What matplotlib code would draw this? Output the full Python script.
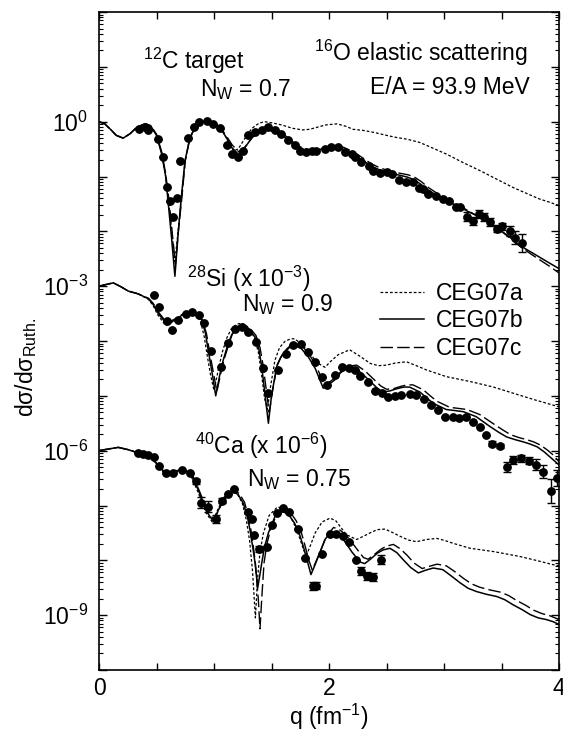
import numpy as np
import matplotlib
matplotlib.use("Agg")
import matplotlib.pyplot as plt
from matplotlib.ticker import FixedLocator, LogLocator, NullFormatter, FuncFormatter

plt.rcParams["font.family"] = ["Liberation Sans", "DejaVu Sans"]
plt.rcParams["mathtext.fontset"] = "custom"
plt.rcParams["mathtext.rm"] = "Liberation Sans"
plt.rcParams["mathtext.it"] = "Liberation Sans:italic"
plt.rcParams["mathtext.bf"] = "Liberation Sans:bold"

# curves: (q [fm^-1], log10 dsigma/dsigma_Ruth incl. the plot offset)
C12_A = [(0.00, 0.00), (0.05, -0.04), (0.10, -0.14), (0.15, -0.25), (0.21, -0.30), (0.27, -0.22),
         (0.33, -0.10), (0.40, -0.04), (0.45, -0.08), (0.50, -0.24), (0.545, -0.57), (0.58, -1.00),
         (0.605, -1.44), (0.635, -2.05), (0.66, -2.55), (0.69, -1.95), (0.715, -1.42), (0.75, -0.70),
         (0.78, -0.40), (0.81, -0.21), (0.85, -0.08), (0.90, -0.01), (0.95, 0.00), (1.00, -0.03),
         (1.07, -0.14), (1.12, -0.35), (1.17, -0.53), (1.21, -0.50), (1.27, -0.30), (1.33, -0.12),
         (1.39, -0.03), (1.44, 0.00), (1.50, -0.02), (1.59, -0.06), (1.68, -0.12), (1.77, -0.15),
         (1.83, -0.14), (1.90, -0.10), (1.97, -0.06), (2.07, -0.04), (2.14, -0.08), (2.21, -0.14),
         (2.30, -0.16), (2.40, -0.20), (2.50, -0.25), (2.59, -0.29), (2.68, -0.32), (2.79, -0.38),
         (2.90, -0.48), (3.02, -0.59), (3.16, -0.74), (3.31, -0.89), (3.45, -1.04), (3.60, -1.20),
         (3.72, -1.31), (3.83, -1.41), (3.92, -1.47), (4.00, -1.53)]
C12_B = [(0.00, 0.00), (0.05, -0.04), (0.10, -0.14), (0.15, -0.25), (0.21, -0.30), (0.27, -0.22),
         (0.33, -0.10), (0.40, -0.04), (0.45, -0.08), (0.50, -0.25), (0.545, -0.59), (0.58, -1.00),
         (0.60, -1.44), (0.63, -2.10), (0.66, -2.82), (0.69, -2.00), (0.713, -1.44), (0.748, -0.71),
         (0.78, -0.40), (0.806, -0.22), (0.85, -0.08), (0.90, -0.01), (0.95, 0.00), (1.00, -0.04),
         (1.067, -0.16), (1.11, -0.30), (1.153, -0.47), (1.21, -0.59), (1.26, -0.50), (1.33, -0.29),
         (1.40, -0.18), (1.47, -0.15), (1.55, -0.20), (1.62, -0.29), (1.70, -0.43), (1.76, -0.50),
         (1.82, -0.53), (1.88, -0.53), (1.95, -0.49), (2.04, -0.455), (2.12, -0.50), (2.21, -0.59),
         (2.29, -0.70), (2.36, -0.80), (2.43, -0.87), (2.50, -0.92), (2.58, -0.96), (2.68, -1.01),
         (2.74, -1.06), (2.79, -1.13), (2.86, -1.24), (2.94, -1.35), (3.04, -1.46), (3.14, -1.56),
         (3.22, -1.65), (3.31, -1.74), (3.40, -1.85), (3.49, -1.98), (3.58, -2.12), (3.66, -2.26),
         (3.75, -2.37), (3.83, -2.47), (3.91, -2.57), (4.00, -2.68)]
C12_C = [(0.00, 0.00), (0.05, -0.04), (0.10, -0.14), (0.15, -0.25), (0.21, -0.30), (0.27, -0.22),
         (0.33, -0.10), (0.40, -0.04), (0.45, -0.07), (0.50, -0.23), (0.545, -0.55), (0.58, -0.95),
         (0.61, -1.45), (0.64, -2.10), (0.665, -2.60), (0.69, -2.00), (0.72, -1.40), (0.75, -0.72),
         (0.78, -0.40), (0.81, -0.21), (0.85, -0.08), (0.90, -0.01), (0.95, 0.00), (1.00, -0.03),
         (1.07, -0.15), (1.11, -0.27), (1.16, -0.43), (1.215, -0.55), (1.27, -0.46), (1.34, -0.27),
         (1.41, -0.16), (1.48, -0.13), (1.56, -0.18), (1.63, -0.27), (1.71, -0.41), (1.77, -0.48),
         (1.83, -0.51), (1.89, -0.51), (1.96, -0.47), (2.05, -0.43), (2.13, -0.47), (2.22, -0.56),
         (2.30, -0.67), (2.37, -0.77), (2.44, -0.84), (2.51, -0.89), (2.59, -0.93), (2.69, -0.97),
         (2.75, -1.02), (2.80, -1.09), (2.87, -1.21), (2.95, -1.32), (3.05, -1.44), (3.15, -1.55),
         (3.23, -1.65), (3.32, -1.75), (3.41, -1.87), (3.50, -2.00), (3.59, -2.15), (3.67, -2.29),
         (3.76, -2.42), (3.84, -2.53), (3.92, -2.64), (4.00, -2.76)]

SI28_A = [(0.00, -3.00), (0.06, -2.97), (0.125, -2.94), (0.19, -3.01), (0.255, -3.09), (0.34, -3.14),
          (0.43, -3.24), (0.47, -3.35), (0.51, -3.52), (0.58, -3.72), (0.65, -3.64), (0.74, -3.50),
          (0.80, -3.47), (0.855, -3.54), (0.885, -3.66), (0.915, -3.92), (0.94, -4.25), (0.97, -4.62),
          (1.00, -4.90), (1.035, -4.55), (1.07, -4.22), (1.11, -3.95), (1.15, -3.78), (1.20, -3.69),
          (1.24, -3.68), (1.30, -3.76), (1.35, -3.93), (1.385, -4.20), (1.41, -4.55), (1.44, -5.05),
          (1.465, -5.25), (1.49, -4.85), (1.53, -4.35), (1.57, -4.12), (1.62, -4.00), (1.67, -3.96),
          (1.70, -3.96), (1.76, -4.05), (1.83, -4.22), (1.90, -4.40), (1.965, -4.48), (2.01, -4.38),
          (2.08, -4.25), (2.18, -4.16), (2.27, -4.28), (2.36, -4.41), (2.43, -4.45), (2.50, -4.44),
          (2.58, -4.40), (2.675, -4.38), (2.76, -4.45), (2.85, -4.53), (3.02, -4.65), (3.23, -4.74),
          (3.43, -4.84), (3.66, -4.99), (3.80, -5.08), (3.95, -5.17), (4.00, -5.20)]
SI28_B = [(0.00, -3.00), (0.06, -2.97), (0.125, -2.94), (0.19, -3.01), (0.255, -3.09), (0.34, -3.14),
          (0.43, -3.23), (0.47, -3.33), (0.516, -3.50), (0.589, -3.69), (0.66, -3.62), (0.748, -3.49),
          (0.806, -3.47), (0.86, -3.53), (0.893, -3.62), (0.925, -3.85), (0.95, -4.17), (0.985, -4.60),
          (1.015, -5.00), (1.05, -4.62), (1.08, -4.35), (1.12, -4.07), (1.153, -3.89), (1.20, -3.75),
          (1.24, -3.71), (1.30, -3.78), (1.357, -3.93), (1.39, -4.15), (1.415, -4.47), (1.445, -5.00),
          (1.473, -5.50), (1.50, -5.00), (1.545, -4.47), (1.58, -4.30), (1.617, -4.20), (1.66, -4.11),
          (1.70, -4.08), (1.76, -4.14), (1.82, -4.29), (1.88, -4.50), (1.95, -4.86), (2.00, -4.79),
          (2.05, -4.71), (2.10, -4.58), (2.15, -4.50), (2.21, -4.48), (2.28, -4.58), (2.36, -4.74),
          (2.42, -4.86), (2.47, -4.93), (2.53, -4.91), (2.59, -4.87), (2.65, -4.84), (2.70, -4.84),
          (2.79, -4.93), (2.85, -5.04), (2.91, -5.14), (3.02, -5.25), (3.10, -5.27), (3.17, -5.29),
          (3.28, -5.38), (3.40, -5.56), (3.48, -5.67), (3.545, -5.75), (3.62, -5.80), (3.69, -5.84),
          (3.75, -5.88), (3.81, -5.93), (3.87, -6.02), (3.93, -6.13), (4.00, -6.26)]
SI28_C = [(0.00, -3.00), (0.06, -2.97), (0.125, -2.94), (0.19, -3.01), (0.255, -3.09), (0.34, -3.14),
          (0.43, -3.22), (0.47, -3.31), (0.52, -3.48), (0.59, -3.67), (0.66, -3.60), (0.75, -3.48),
          (0.81, -3.46), (0.865, -3.52), (0.90, -3.62), (0.935, -3.87), (0.96, -4.18), (0.995, -4.58),
          (1.025, -4.92), (1.06, -4.58), (1.09, -4.32), (1.13, -4.05), (1.16, -3.87), (1.21, -3.73),
          (1.25, -3.69), (1.31, -3.76), (1.365, -3.90), (1.40, -4.12), (1.425, -4.42), (1.455, -4.90),
          (1.48, -5.30), (1.51, -4.90), (1.55, -4.43), (1.59, -4.26), (1.63, -4.15), (1.67, -4.07),
          (1.71, -4.04), (1.77, -4.10), (1.83, -4.25), (1.89, -4.46), (1.96, -4.80), (2.01, -4.74),
          (2.06, -4.66), (2.11, -4.54), (2.17, -4.46), (2.24, -4.44), (2.31, -4.54), (2.39, -4.70),
          (2.45, -4.82), (2.50, -4.88), (2.56, -4.87), (2.62, -4.83), (2.68, -4.80), (2.73, -4.80),
          (2.82, -4.89), (2.88, -5.00), (2.94, -5.10), (3.05, -5.21), (3.13, -5.23), (3.20, -5.25),
          (3.31, -5.34), (3.43, -5.51), (3.51, -5.62), (3.58, -5.71), (3.65, -5.76), (3.72, -5.80),
          (3.78, -5.84), (3.84, -5.90), (3.90, -5.99), (3.95, -6.08), (4.00, -6.20)]

CA40_A = [(0.00, -6.00), (0.08, -5.97), (0.168, -5.94), (0.25, -5.98), (0.34, -6.04), (0.40, -6.08),
          (0.458, -6.14), (0.52, -6.29), (0.57, -6.42), (0.62, -6.41), (0.66, -6.39), (0.73, -6.36),
          (0.77, -6.39), (0.80, -6.46), (0.86, -6.75), (0.93, -7.13), (0.985, -7.30), (1.045, -7.02),
          (1.10, -6.80), (1.16, -6.73), (1.20, -6.78), (1.245, -6.95), (1.28, -7.25), (1.31, -7.65),
          (1.335, -8.20), (1.36, -9.05), (1.38, -8.30), (1.40, -7.85), (1.43, -7.50), (1.48, -7.18),
          (1.55, -7.03), (1.61, -7.05), (1.66, -7.18), (1.71, -7.40), (1.75, -7.62), (1.78, -7.82),
          (1.806, -7.90), (1.84, -7.72), (1.88, -7.50), (1.94, -7.30), (2.01, -7.23), (2.06, -7.28),
          (2.15, -7.53), (2.24, -7.62), (2.30, -7.56), (2.357, -7.50), (2.42, -7.44), (2.487, -7.43),
          (2.55, -7.49), (2.617, -7.56), (2.69, -7.63), (2.76, -7.66), (2.85, -7.62), (2.937, -7.60),
          (3.01, -7.64), (3.08, -7.69), (3.226, -7.78), (3.43, -7.84), (3.66, -7.93), (3.80, -8.00),
          (3.95, -8.08), (4.00, -8.10)]
CA40_B = [(0.00, -6.00), (0.08, -5.97), (0.168, -5.94), (0.25, -5.98), (0.34, -6.04), (0.40, -6.08),
          (0.458, -6.14), (0.52, -6.28), (0.574, -6.41), (0.62, -6.40), (0.66, -6.38), (0.733, -6.35),
          (0.77, -6.38), (0.806, -6.44), (0.864, -6.72), (0.936, -7.11), (0.994, -7.29), (1.052, -7.02),
          (1.11, -6.81), (1.168, -6.75), (1.21, -6.80), (1.255, -6.96), (1.29, -7.20), (1.313, -7.45),
          (1.34, -7.80), (1.357, -8.05), (1.38, -8.50), (1.40, -8.25), (1.415, -8.05), (1.44, -7.75),
          (1.473, -7.50), (1.53, -7.20), (1.60, -7.11), (1.65, -7.17), (1.70, -7.32), (1.74, -7.50),
          (1.777, -7.75), (1.81, -8.00), (1.843, -8.26), (1.875, -8.10), (1.907, -7.93), (1.965, -7.62),
          (2.02, -7.47), (2.07, -7.52), (2.125, -7.62), (2.20, -7.85), (2.27, -8.03), (2.31, -8.06),
          (2.36, -7.98), (2.42, -7.87), (2.47, -7.81), (2.53, -7.78), (2.59, -7.86), (2.646, -7.99),
          (2.71, -8.13), (2.777, -8.23), (2.84, -8.18), (2.907, -8.14), (2.99, -8.17), (3.06, -8.28),
          (3.14, -8.41), (3.21, -8.51), (3.284, -8.57), (3.37, -8.62), (3.46, -8.66), (3.53, -8.72),
          (3.60, -8.81), (3.68, -8.90), (3.75, -8.99), (3.82, -9.05), (3.89, -9.08), (3.95, -9.12),
          (4.00, -9.17)]
CA40_C = [(0.00, -6.00), (0.08, -5.97), (0.168, -5.94), (0.25, -5.98), (0.34, -6.04), (0.40, -6.08),
          (0.458, -6.14), (0.52, -6.27), (0.574, -6.40), (0.62, -6.39), (0.66, -6.37), (0.733, -6.34),
          (0.77, -6.37), (0.81, -6.43), (0.87, -6.72), (0.94, -7.09), (1.00, -7.26), (1.06, -7.00),
          (1.12, -6.79), (1.175, -6.73), (1.22, -6.78), (1.265, -6.94), (1.30, -7.20), (1.33, -7.55),
          (1.36, -8.05), (1.385, -8.70), (1.40, -9.25), (1.415, -8.70), (1.435, -8.05), (1.46, -7.70),
          (1.49, -7.45), (1.545, -7.16), (1.615, -7.07), (1.665, -7.13), (1.715, -7.28), (1.755, -7.46),
          (1.79, -7.72), (1.825, -8.00), (1.855, -8.18), (1.885, -8.03), (1.92, -7.86), (1.98, -7.55),
          (2.04, -7.40), (2.09, -7.44), (2.15, -7.54), (2.23, -7.76), (2.30, -7.95), (2.34, -7.98),
          (2.39, -7.90), (2.45, -7.80), (2.50, -7.74), (2.56, -7.71), (2.62, -7.79), (2.68, -7.91),
          (2.74, -8.05), (2.81, -8.15), (2.87, -8.11), (2.94, -8.07), (3.02, -8.10), (3.09, -8.20),
          (3.17, -8.33), (3.24, -8.43), (3.31, -8.49), (3.40, -8.54), (3.49, -8.58), (3.56, -8.64),
          (3.63, -8.73), (3.71, -8.82), (3.78, -8.91), (3.85, -8.97), (3.92, -9.01), (4.00, -9.08)]

# measured points: (q, log10 value, error in decades)
C12_DATA = [(0.35, -0.13, 0), (0.40, -0.09, 0), (0.43, -0.15, 0), (0.51, -0.31, 0), (0.56, -0.65, 0),
            (0.59, -1.20, 0), (0.617, -1.44, 0), (0.641, -1.74, 0), (0.681, -1.39, 0), (0.704, -0.72, 0),
            (0.777, -0.29, 0), (0.829, -0.09, 0), (0.872, -0.01, 0), (0.942, 0.02, 0), (0.989, -0.04, 0),
            (1.052, -0.12, 0), (1.11, -0.42, 0), (1.154, -0.59, 0), (1.21, -0.65, 0), (1.255, -0.53, 0),
            (1.298, -0.25, 0), (1.357, -0.18, 0), (1.415, -0.15, 0), (1.472, -0.10, 0), (1.53, -0.15, 0),
            (1.58, -0.22, 0), (1.64, -0.33, 0), (1.70, -0.42, 0), (1.75, -0.54, 0), (1.80, -0.56, 0),
            (1.85, -0.54, 0), (1.89, -0.54, 0), (1.965, -0.50, 0), (2.02, -0.455, 0), (2.08, -0.47, 0),
            (2.14, -0.55, 0), (2.20, -0.59, 0), (2.23, -0.64, 0), (2.28, -0.74, 0), (2.35, -0.80, 0),
            (2.385, -0.90, 0), (2.44, -0.94, 0), (2.50, -0.91, 0), (2.545, -0.95, 0), (2.61, -1.07, 0),
            (2.67, -1.10, 0), (2.73, -1.10, 0), (2.78, -1.21, 0), (2.82, -1.23, 0), (2.86, -1.32, 0),
            (2.93, -1.35, 0), (2.99, -1.41, 0), (3.04, -1.44, 0), (3.10, -1.55, 0), (3.14, -1.55, 0),
            (3.20, -1.73, 0.08), (3.25, -1.81, 0.08), (3.30, -1.69, 0.07), (3.35, -1.74, 0.07),
            (3.40, -1.83, 0.08), (3.46, -1.95, 0.07), (3.50, -1.91, 0.07), (3.57, -2.00, 0.09),
            (3.62, -2.12, 0.12), (3.68, -2.21, 0.17)]
SI28_DATA = [(0.48, -3.17, 0), (0.52, -3.38, 0), (0.589, -3.63, 0), (0.638, -3.80, 0), (0.69, -3.61, 0),
             (0.754, -3.50, 0), (0.81, -3.47, 0), (0.872, -3.53, 0), (0.916, -3.67, 0), (0.974, -4.18, 0),
             (1.061, -4.47, 0), (1.119, -4.03, 0), (1.183, -3.79, 0), (1.246, -3.74, 0), (1.298, -3.83, 0),
             (1.362, -4.02, 0), (1.429, -4.50, 0), (1.473, -4.94, 0), (1.56, -4.53, 0), (1.623, -4.23, 0),
             (1.69, -4.08, 0), (1.757, -4.05, 0), (1.82, -4.20, 0), (1.878, -4.38, 0), (1.936, -4.66, 0),
             (1.985, -4.80, 0), (2.05, -4.62, 0), (2.11, -4.48, 0), (2.17, -4.50, 0), (2.226, -4.53, 0),
             (2.27, -4.64, 0), (2.337, -4.74, 0), (2.40, -4.91, 0), (2.458, -4.94, 0), (2.516, -5.03, 0),
             (2.574, -5.00, 0), (2.63, -4.99, 0), (2.70, -4.97, 0), (2.76, -4.99, 0), (2.826, -5.05, 0),
             (2.884, -5.16, 0), (2.95, -5.25, 0), (3.01, -5.38, 0), (3.076, -5.38, 0), (3.13, -5.41, 0),
             (3.19, -5.38, 0), (3.25, -5.47, 0), (3.31, -5.56, 0), (3.365, -5.71, 0), (3.42, -5.87, 0.04),
             (3.49, -5.92, 0.04), (3.55, -6.30, 0.09), (3.60, -6.17, 0.07), (3.667, -6.14, 0.06),
             (3.74, -6.18, 0.07), (3.80, -6.26, 0.10), (3.86, -6.38, 0.12), (3.93, -6.73, 0.22),
             (3.985, -6.50, 0.15)]
CA40_DATA = [(0.342, -6.05, 0), (0.385, -6.06, 0), (0.423, -6.08, 0), (0.481, -6.12, 0), (0.522, -6.28, 0),
             (0.58, -6.41, 0), (0.646, -6.40, 0), (0.725, -6.36, 0), (0.791, -6.41, 0), (0.841, -6.56, 0.05),
             (0.887, -6.95, 0.10), (0.95, -7.02, 0.10), (1.015, -7.25, 0.07), (1.067, -6.91, 0.04),
             (1.119, -6.79, 0), (1.177, -6.70, 0), (1.293, -7.11, 0), (1.328, -7.25, 0), (1.35, -7.53, 0),
             (1.39, -7.79, 0.06), (1.458, -7.75, 0), (1.50, -7.35, 0), (1.545, -7.14, 0), (1.60, -7.05, 0),
             (1.655, -7.11, 0), (1.733, -7.43, 0), (1.79, -7.96, 0), (1.863, -8.47, 0.07), (1.89, -8.46, 0.06),
             (1.94, -7.88, 0), (2.01, -7.52, 0), (2.06, -7.52, 0), (2.12, -7.56, 0), (2.17, -7.66, 0),
             (2.235, -8.00, 0), (2.275, -8.20, 0.07), (2.33, -8.28, 0.07), (2.38, -8.30, 0.07),
             (2.45, -7.99, 0.08)]

MODEL_LABELS = ["CEG07a", "CEG07b", "CEG07c"]
STYLE_A = dict(ls=(0, (2.2, 1.6)), lw=0.9)
STYLE_B = dict(ls="-", lw=1.1)
STYLE_C = dict(ls=(0, (9, 3)), lw=1.0)
FS = 16.5


def draw_curve(ax, pts, label=None, **kw):
    a = np.array(pts)
    return ax.plot(a[:, 0], 10 ** a[:, 1], color="k", label=label, **kw)[0]


def draw_data(ax, pts):
    a = np.array(pts)
    y = 10 ** a[:, 1]
    lo = y - 10 ** (a[:, 1] - a[:, 2])
    hi = 10 ** (a[:, 1] + a[:, 2]) - y
    ax.errorbar(a[:, 0], y, yerr=[lo, hi], fmt="o", ms=5.3, color="k",
                capsize=2.6, elinewidth=1.0, capthick=1.0, zorder=5)


fig = plt.figure(figsize=(5.63, 7.34), dpi=100)
ax = fig.add_axes([99 / 563, 64 / 734, 460 / 563, 658 / 734])

handles = []
for A, B, C, D in [(C12_A, C12_B, C12_C, C12_DATA),
                   (SI28_A, SI28_B, SI28_C, SI28_DATA),
                   (CA40_A, CA40_B, CA40_C, CA40_DATA)]:
    ha = draw_curve(ax, A, MODEL_LABELS[0], **STYLE_A)
    hb = draw_curve(ax, B, MODEL_LABELS[1], **STYLE_B)
    hc = draw_curve(ax, C, MODEL_LABELS[2], **STYLE_C)
    draw_data(ax, D)
    if not handles:
        handles = [ha, hb, hc]

ax.set_yscale("log")
ax.set_xlim(0, 4)
ax.set_ylim(1e-10, 1e2)

ax.xaxis.set_major_locator(FixedLocator([0, 2, 4]))
ax.xaxis.set_minor_locator(FixedLocator(np.arange(0, 4.01, 0.5)))
ax.yaxis.set_major_locator(LogLocator(base=10, numticks=30))
ax.yaxis.set_minor_locator(LogLocator(base=10, subs=np.arange(2, 10), numticks=200))
ax.yaxis.set_minor_formatter(NullFormatter())


def ylab(v, pos):
    e = int(round(np.log10(v)))
    return f"$10^{{{e}}}$" if e in (0, -3, -6, -9) else ""


ax.yaxis.set_major_formatter(FuncFormatter(ylab))
ax.tick_params(which="both", direction="in", top=True, right=True, labelsize=FS, color="k")
ax.tick_params(axis="y", which="major", length=6, width=1.0, pad=8)
ax.tick_params(axis="y", which="minor", length=3, width=0.8)
ax.tick_params(axis="x", which="both", length=5, width=1.0, pad=5)
for s in ax.spines.values():
    s.set_linewidth(1.2)

ax.set_xlabel("q (fm$^{-1}$)", fontsize=FS, labelpad=1)
ax.set_ylabel("dσ/dσ$_{\\mathrm{Ruth.}}$", fontsize=FS)
ax.yaxis.set_label_coords(-0.13, 0.46)

tk = dict(transform=ax.transAxes, fontsize=FS, va="center")
ax.text(0.096, 0.9255, "$^{12}$C target", ha="left", **tk)
ax.text(0.220, 0.8815, "N$_{\\mathrm{W}}$ = 0.7", ha="left", **tk)
ax.text(0.933, 0.9377, "$^{16}$O elastic scattering", ha="right", **tk)
ax.text(0.937, 0.8845, "E/A = 93.9 MeV", ha="right", **tk)
ax.text(0.191, 0.594, "$^{28}$Si (x 10$^{-3}$)", ha="left", **tk)
ax.text(0.311, 0.5547, "N$_{\\mathrm{W}}$ = 0.9", ha="left", **tk)
ax.text(0.209, 0.3404, "$^{40}$Ca (x 10$^{-6}$)", ha="left", **tk)
ax.text(0.322, 0.290, "N$_{\\mathrm{W}}$ = 0.75", ha="left", **tk)

ax.legend(handles=handles, loc="upper left", bbox_to_anchor=(0.611, 0.590), frameon=False,
          fontsize=FS, handlelength=1.9, handletextpad=0.55, labelspacing=0.2,
          borderpad=0, borderaxespad=0)

fig.savefig("out.png", dpi=100)
